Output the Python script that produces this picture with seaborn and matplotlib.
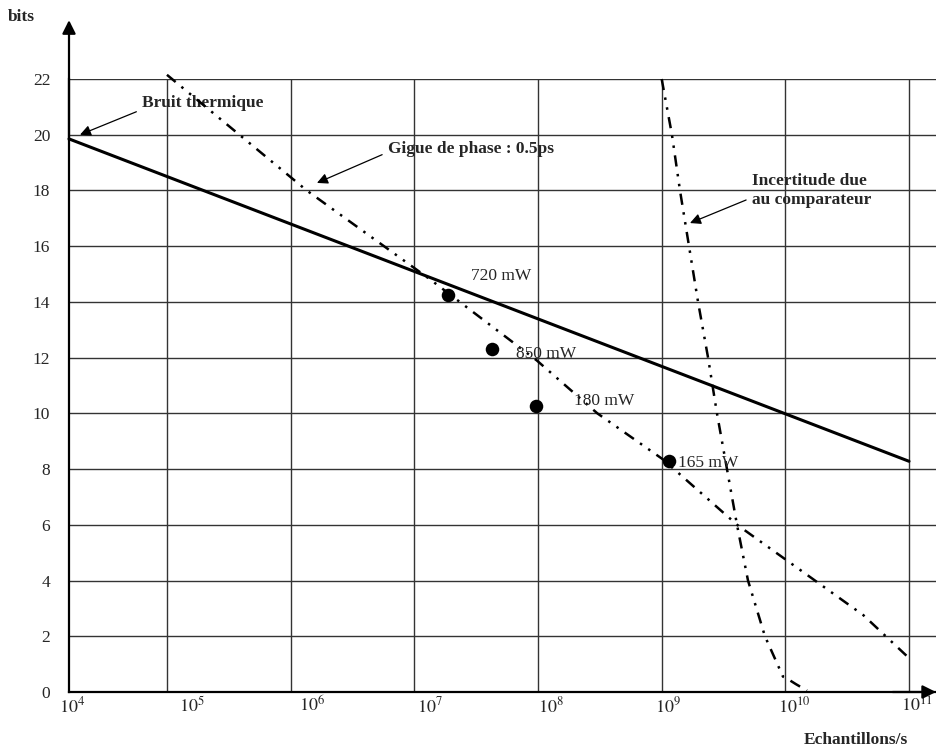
import numpy as np
import pandas as pd
import matplotlib
matplotlib.use("Agg")
import matplotlib.pyplot as plt
import seaborn as sns

# ---------------- data (x values given as log10 of samples/s) ----------------
y_ticks = [0, 2, 4, 6, 8, 10, 12, 14, 16, 18, 20, 22]
x_tick_labels = ["$10^{4}$", "$10^{5}$", "$10^{6}$", "$10^{7}$",
                 "$10^{8}$", "$10^{9}$", "$10^{10}$", "$10^{11}$"]
x_tick_label_pos_log = [4.232, 5.202, 6.172, 7.127, 8.105, 9.051, 10.07, 11.066]
grid_decades_log = [5, 6, 7, 8, 9, 10, 11]

thermal_log_x = [4.208, 11.0]
thermal_bits = [19.85, 8.28]

jitter_log_x = [5.0, 6.13, 7.13, 7.99, 8.48, 9.01, 9.61, 10.63, 10.98]
jitter_bits = [22.15, 18.0, 14.8, 11.9, 10.0, 8.35, 6.0, 2.76, 1.3]

comp_log_x = [9.0, 9.083, 9.148, 9.221, 9.294, 9.375, 9.447, 9.528,
              9.609, 9.698, 9.835, 9.981, 10.0, 10.086, 10.175]
comp_bits = [22.0, 20.0, 18.0, 16.0, 14.0, 12.0, 10.0, 8.0,
             6.0, 4.0, 2.0, 0.55, 0.52, 0.28, 0.05]

adc_log_x = [7.27, 7.63, 7.98, 9.06]
adc_bits = [14.25, 12.3, 10.25, 8.29]
adc_labels = ["720 mW", "850 mW", "180 mW", "165 mW"]
adc_label_offsets = [(23, 19), (24, -5), (38, 5), (9, -2)]

# ---------------- style ----------------
sns.set_style("white")
plt.rcParams["font.family"] = ["Liberation Serif", "DejaVu Serif"]
plt.rcParams["mathtext.fontset"] = "stix"

fig = plt.figure(figsize=(9.36, 7.49), dpi=100)
ax = fig.add_axes([69 / 936, 1 - 692 / 749, 1 - 69 / 936, (692 - 79) / 749])

thermal = pd.DataFrame({"x": 10.0 ** np.array(thermal_log_x), "y": thermal_bits})
jitter = pd.DataFrame({"x": 10.0 ** np.array(jitter_log_x), "y": jitter_bits})
comp = pd.DataFrame({"x": 10.0 ** np.array(comp_log_x), "y": comp_bits})
adc = pd.DataFrame({"x": 10.0 ** np.array(adc_log_x), "y": adc_bits, "lab": adc_labels})

dashdotdot = (0, (4.5, 3, 1, 3, 1, 3))
sns.lineplot(data=thermal, x="x", y="y", ax=ax, color="black", lw=2.2,
             sort=False, estimator=None, clip_on=False, zorder=4)
sns.lineplot(data=jitter, x="x", y="y", ax=ax, color="black", lw=1.8,
             linestyle=dashdotdot, sort=False, estimator=None, clip_on=False, zorder=4)
sns.lineplot(data=comp, x="x", y="y", ax=ax, color="black", lw=1.8,
             linestyle=dashdotdot, sort=False, estimator=None, clip_on=False, zorder=4)
sns.scatterplot(data=adc, x="x", y="y", ax=ax, color="black", s=95,
                edgecolor="black", linewidth=0, zorder=5, clip_on=False)

ax.set_xscale("log")
ax.set_xlim(10 ** 4.208, 10 ** 11.218)
ax.set_ylim(0, 22)

# grid: vertical lines at decades, horizontal at y ticks
ax.set_xticks([10.0 ** d for d in grid_decades_log])
ax.set_xticks([10.0 ** p for p in x_tick_label_pos_log], minor=True)
ax.set_xticklabels([], minor=False)
ax.set_xticklabels(x_tick_labels, minor=True)
ax.tick_params(axis="x", which="both", length=0)
ax.tick_params(axis="x", which="minor", labelsize=13, pad=3)
ax.set_yticks(y_ticks)
ax.set_yticklabels([str(v) for v in y_ticks])
ax.tick_params(axis="y", length=0, labelsize=12.5, pad=13.5)
ax.grid(True, which="major", color="#333333", lw=1.0)
ax.set_axisbelow(True)

for s in ["top", "right"]:
    ax.spines[s].set_visible(False)
for s in ["left", "bottom"]:
    ax.spines[s].set_color("black")
    ax.spines[s].set_linewidth(1.6)
ax.set_xlabel("")
ax.set_ylabel("")

# axis arrows
ax.annotate("", xy=(0, 1.096), xytext=(0, 0.9), xycoords="axes fraction",
            arrowprops=dict(arrowstyle="-|>", lw=1.6, color="black",
                            mutation_scale=20, shrinkA=0, shrinkB=0),
            annotation_clip=False)
ax.annotate("", xy=(1.0, 0), xytext=(0.95, 0), xycoords="axes fraction",
            arrowprops=dict(arrowstyle="-|>", lw=1.6, color="black",
                            mutation_scale=20, shrinkA=0, shrinkB=0),
            annotation_clip=False)

# point labels
for xv, yv, lab, off in zip(adc["x"], adc["y"], adc_labels, adc_label_offsets):
    ax.annotate(lab, xy=(xv, yv), xytext=off, textcoords="offset pixels",
                ha="left", va="center", fontsize=12.5, zorder=6)

# curve annotations
arrow_kw = dict(arrowstyle="-|>", lw=0.9, color="black", mutation_scale=16,
                shrinkA=2, shrinkB=0)
ax.annotate("Bruit thermique", xy=(10 ** 4.297, 20.0), xytext=(10 ** 4.80, 21.14),
            ha="left", va="center", fontsize=12.5, fontweight="bold",
            arrowprops=dict(relpos=(0, 0.1), **arrow_kw), annotation_clip=False)
ax.annotate("Gigue de phase : 0.5ps", xy=(10 ** 6.213, 18.27), xytext=(10 ** 6.787, 19.49),
            ha="left", va="center", fontsize=12.5, fontweight="bold",
            arrowprops=dict(relpos=(0, 0.3), **arrow_kw), annotation_clip=False)
ax.annotate("Incertitude due\nau comparateur", xy=(10 ** 9.229, 16.83),
            xytext=(10 ** 9.73, 18.0),
            ha="left", va="center", fontsize=12.5, fontweight="bold", linespacing=1.3,
            arrowprops=dict(relpos=(0, 0.3), **arrow_kw), annotation_clip=False)

fig.text(8 / 936, 1 - 17 / 749, "bits", ha="left", va="center",
         fontsize=12.5, fontweight="bold")
fig.text(856 / 936, 1 - 740 / 749, "Echantillons/s", ha="center", va="center",
         fontsize=12.5, fontweight="bold")

fig.savefig("out.png", dpi=100)
